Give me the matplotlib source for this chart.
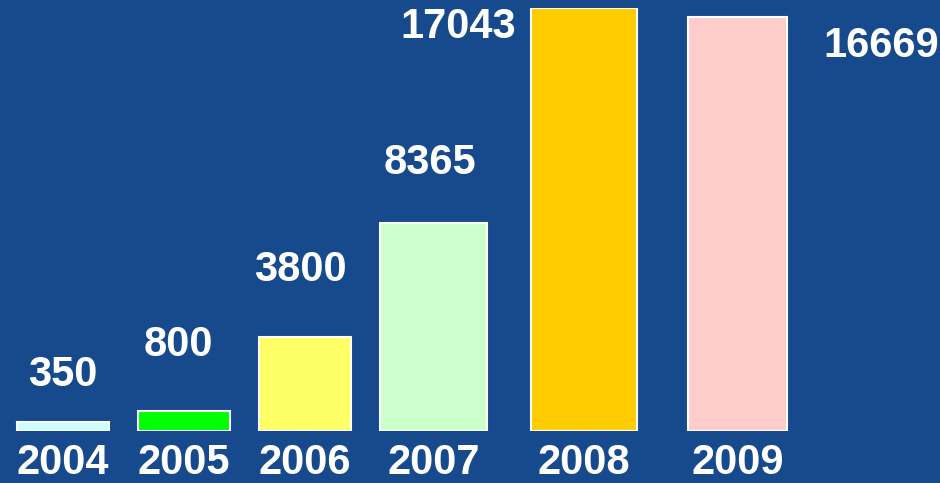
import matplotlib.pyplot as plt

years = ['2004', '2005', '2006', '2007', '2008', '2009']
values = [350, 800, 3800, 8365, 17043, 16669]
colors = ['#CCFFFF', '#00FF00', '#FFFF66', '#CCFFCC', '#FFCC00', '#FFCCCC']

# layout (pixel-like units on a 0..940 x axis)
bar_pos = [63, 184, 304.5, 433.5, 584, 737.5]
bar_w = [92, 92, 92, 107, 106, 99]
# label offsets in pixels from the top centre of each bar
lab_dx = [0, -6, -4, -4, -126, 144]
lab_dy = [47, 66, 67, 60, -19, -29]

bg = '#174A8C'
plt.rcParams['font.family'] = ['Liberation Sans', 'DejaVu Sans']

fig = plt.figure(figsize=(9.4, 4.83), dpi=100, facecolor=bg)
ax = fig.add_axes([0, 52 / 483, 1, 423 / 483])
ax.set_facecolor(bg)

ax.bar(bar_pos, values, width=bar_w, color=colors, edgecolor='white', linewidth=1.5)

for x, v, dx, dy in zip(bar_pos, values, lab_dx, lab_dy):
    ax.annotate(str(v), (x, v), xytext=(dx, dy), textcoords='offset pixels',
                ha='center', va='center', color='white', fontsize=30,
                fontweight='bold', annotation_clip=False)

ax.set_xlim(0, 940)
ax.set_ylim(0, 17043)
ax.set_xticks(bar_pos, years)
ax.tick_params(axis='x', length=0, pad=9, labelsize=30, labelcolor='white')
for lbl in ax.get_xticklabels():
    lbl.set_fontweight('bold')
ax.set_yticks([])
for s in ax.spines.values():
    s.set_visible(False)

fig.savefig('out.png', dpi=100, facecolor=bg)
